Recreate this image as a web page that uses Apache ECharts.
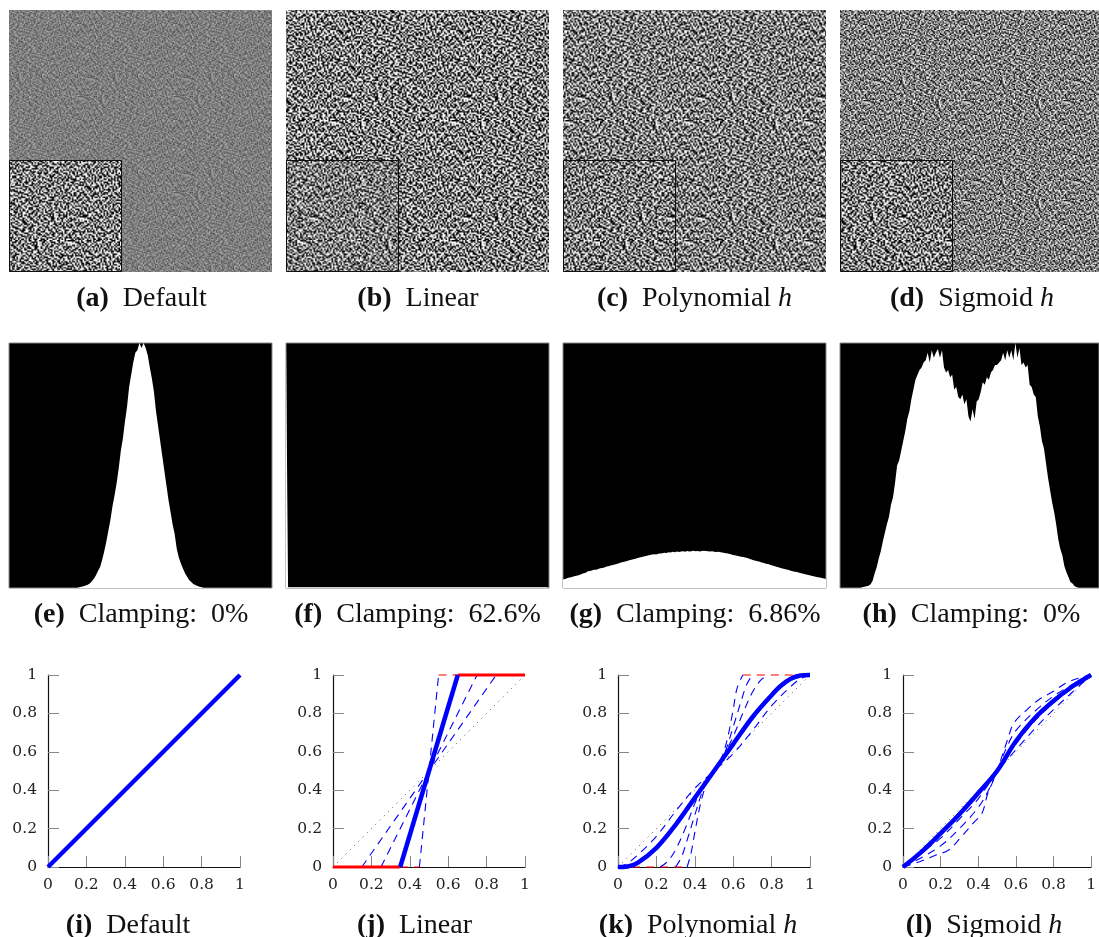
<!DOCTYPE html>
<html>
<head>
<meta charset="utf-8">
<script src="https://cdn.jsdelivr.net/npm/echarts@6/dist/echarts.min.js"></script>
<style>html,body{margin:0;padding:0;background:#fff}#c{width:1099px;height:937px}</style>
</head>
<body>
<div id="c"></div>
<script>
// ---------- captions ----------
const captionsTop = [['(a)','Default',''],['(b)','Linear',''],['(c)','Polynomial','h'],['(d)','Sigmoid','h']];
const captionsMid = [['(e)','Clamping:  0%',''],['(f)','Clamping:  62.6%',''],['(g)','Clamping:  6.86%',''],['(h)','Clamping:  0%','']];
const captionsBot = [['(i)','Default',''],['(j)','Linear',''],['(k)','Polynomial','h'],['(l)','Sigmoid','h']];
const tickStep = 0.2;

const histE = [0,0,0,0,0,0,0,0,0,0,0,0,0,0,0,0,0,0,0,0,0,0,0,0,0,0,0,0,0,0,0,0,0,0,
 .3,.5,.7,1,1.3,1.8,2.8,3.8,5.2,7,8.6,11.5,15,19,23.5,28,33.5,38,43,49,56,61,68,74,82,87,92,96,97,100,98,100,98,95,90,85.5,80,72,66,60,54,48,42,36,31,26,22,16,12.5,10,8,6,4.6,3.3,2.4,1.6,1.2,.8,.5,.3,
 0,0,0,0,0,0,0,0,0,0,0,0,0,0,0,0,0,0,0,0,0,0,0,0,0,0,0,0,0,0,0,0,0,0];
const histF = [100,.3,.3,.3,.3,.3,.3,.3,.3,.3,.3,.3,.3,.3,.3,.3,.3,.3,.3,.3,.3,.3,.3,.3,.3,.3,.3,.3,.3,.3,.3,.3,
 .3,.3,.3,.3,.3,.3,.3,.3,.3,.3,.3,.3,.3,.3,.3,.3,.3,.3,.3,.3,.3,.3,.3,.3,.3,.3,.3,.3,.3,.3,.3,.3,
 .3,.3,.3,.3,.3,.3,.3,.3,.3,.3,.3,.3,.3,.3,.3,.3,.3,.3,.3,.3,.3,.3,.3,.3,.3,.3,.3,.3,.3,.3,.3,.3,
 .3,.3,.3,.3,.3,.3,.3,.3,.3,.3,.3,.3,.3,.3,.3,.3,.3,.3,.3,.3,.3,.3,.3,.3,.3,.3,.3,.3,.3,.3,.3,.3];
const histG = [3.5,3.7,4,4.3,4.4,4.7,4.9,5.1,5.3,5.7,6,6.2,6.8,
 6.9,7.1,7.4,7.5,7.8,8.1,8.2,8.4,8.8,8.9,9.2,9.4,9.6,9.8,10.1,10.4,
 10.6,10.8,11,11.3,11.5,11.7,11.9,12.2,12.4,12.7,12.9,13.1,13.3,13.5,13.7,13.8,
 13.7,14,14.1,14.2,14.4,14.3,14.6,14.5,14.8,14.6,14.9,14.7,14.9,
 15,14.8,15.1,14.9,15,15.2,15,15.1,14.9,15.1,15.2,15.1,
 15,14.9,15,14.8,14.7,14.8,14.6,14.5,14.3,14.2,14,13.8,13.5,
 13.4,13.2,13,12.8,12.7,12.4,12.2,11.9,11.6,11.3,11.1,
 10.9,10.7,10.4,10.2,9.9,9.8,9.5,9.2,9,8.7,8.5,8.2,8,7.8,7.6,7.3,7,
 6.8,6.6,6.5,6.2,6,5.8,5.6,5.4,5.2,5,4.8,4.6,4.4,4.3,4.1,3.9,3.7];
const histH = [0,0,0,0,0,0,0,0,0,0,0,
 .3,.5,.7,.9,1.5,3,6,8.5,12,15,19,22.6,26,29,34,37,43,50,52,56,60,64,69,72,77,81,85,87,89,90,92,93,96,92,97,94,96,97.6,94,97,90,88,89,86,87,81,82,78,77,79,75,77,70,68,73,69,76,77,80,84,83,86,85,88,89,91,91,92,93,96,93,97,94,97,93,100,94,98,91,92,90,91,83,82,79,78,70,66,60,57,51,45,40,35,31,26,20,16,13.5,9,6.5,4.5,2.5,1.8,.8,.3,
 0,0,0,0,0,0,0,0,0,0,0];

const identity = [[0,0],[1,1]];
const iBold = [[0,0],[1,1]];

const jBold = [[0.35,0],[0.65,1]];
const jDash1 = [[0.15,0],[0.85,1]];
const jDash2 = [[0.25,0],[0.75,1]];
const jDash3 = [[0.45,0],[0.55,1]];
const jClampLow = [[0,0],[0.35,0]];
const jClampHigh = [[0.65,1],[1,1]];
const jThinLow = [[0.35,0],[0.45,0]];
const jThinHigh = [[0.55,1],[0.65,1]];

const kBold = [[0,0],[0.05,0.003],[0.1,0.02],[0.2,0.1],[0.3,0.22],[0.4,0.36],[0.5,0.5],[0.6,0.64],[0.7,0.78],[0.8,0.895],[0.85,0.945],[0.9,0.98],[0.95,0.997],[1,1]];
const kWide = [[0,0],[0.05,0.02],[0.1,0.06],[0.2,0.16],[0.3,0.29],[0.4,0.41],[0.5,0.5],[0.6,0.59],[0.7,0.71],[0.8,0.84],[0.9,0.94],[0.95,0.98],[1,1]];
const kDash1 = [[0.22,0],[0.26,0.03],[0.3,0.09],[0.35,0.2],[0.4,0.33],[0.45,0.44],[0.5,0.5],[0.55,0.58],[0.6,0.68],[0.65,0.8],[0.7,0.91],[0.74,0.97],[0.78,1]];
const kDash2 = [[0.3,0],[0.33,0.05],[0.36,0.14],[0.4,0.27],[0.45,0.42],[0.5,0.5],[0.55,0.58],[0.6,0.73],[0.64,0.86],[0.67,0.95],[0.7,1]];
const kDash3 = [[0.36,0],[0.38,0.07],[0.4,0.18],[0.43,0.33],[0.46,0.43],[0.5,0.5],[0.54,0.57],[0.57,0.67],[0.6,0.82],[0.62,0.93],[0.65,1]];
const kThinLow = [[0,0],[0.36,0]];
const kThinHigh = [[0.65,1],[1,1]];

const lBold = [[0,0],[0.1,0.08],[0.2,0.175],[0.3,0.275],[0.4,0.385],[0.5,0.5],[0.6,0.655],[0.7,0.775],[0.8,0.865],[0.9,0.94],[1,1]];
const lDash1 = [[0,0],[0.095,0.03],[0.17,0.06],[0.245,0.09],[0.31,0.157],[0.375,0.23],[0.42,0.28],[0.45,0.38],[0.48,0.45],[0.5,0.5],[0.555,0.66],[0.59,0.75],[0.66,0.82],[0.72,0.87],[0.8,0.915],[0.87,0.96],[0.955,0.99],[1,1]];
const lDash2 = [[0,0],[0.1,0.05],[0.2,0.11],[0.3,0.2],[0.4,0.31],[0.45,0.39],[0.5,0.5],[0.55,0.62],[0.6,0.71],[0.7,0.81],[0.8,0.89],[0.9,0.95],[1,1]];
const lDash3 = [[0,0],[0.1,0.075],[0.2,0.15],[0.3,0.25],[0.4,0.355],[0.5,0.5],[0.6,0.64],[0.7,0.76],[0.8,0.855],[0.9,0.93],[1,1]];
const lDash4 = [[0,0],[0.1,0.09],[0.2,0.185],[0.3,0.285],[0.4,0.39],[0.5,0.5],[0.6,0.61],[0.7,0.72],[0.8,0.82],[0.9,0.91],[1,1]];

// ---------- noise panels ----------
// The pixels of the noise images cannot be read one by one, so these panels are an
// approximation: a fixed hand-typed texture tile, with mean, contrast and grain per panel matched by eye.
const NOISE_TILE = [
"4720961583350278146692037518842960173554",
"1985324076612849503377160429958231640785",
"6043817295528061947343582706119375824604",
"3596142087734915620885274309661047259318",
"7218650349186437025914603982475510863927",
"5402973168249051786362895140736824195063",
"0867341526973284015659317842060596143782",
"9134286705451670938240651793328708524196",
"2675098413826359147086429537114260978345",
"4391752860067143829515780264893651207486",
"8520469317544986201733146875209432785610",
"1746083925390217654898023561474018396257",
"6259314780825743096126957041386529174038",
"3087652491167305842954318620979240561873",
"5914827036442819673070264985131786350429",
"7463190258906532481747125309684251876013",
"0328576149275061394828947613053619482756",
"9851403762618947250336082479516037295184",
"2170968345734286519061593820647158423690",
"4695231807059613742884371056928346017529",
"8036749152483027961565809147232570968341",
"1582460397216754803949126583704893152607",
"6917325084970348216578340261596412738059",
"3248017695125896437012679854303765081942",
"5703986124648210573986415037829156247380",
"7460152839391675082423958760146028593714",
"0895273461862349715050217396485731640928",
"9312648570147086329678543120969254173806",
"2654091738503927461881670945323860759142",
"4187365920276158943045236818790417326595",
"8729510346931402687556981423067592081437",
"1036784295648715032970345286914163709258",
"6598213047082369154722807659431520846731",
"3240956781517048396284916037528379162504",
"5871432609364925870113695842076248315907",
"7926048513280136749540472915863601957382",
"0463715982895274061367350198246785421069",
"9185360724456809231782614537908023674915",
"2739841650613597428006128463579142860375",
"4607129358738240916593547260183956207148"
];
const noiseMain  = [{mean:126,contrast:48,scale:1.2,shift:3},{mean:125,contrast:420,scale:1.5,shift:7},{mean:128,contrast:220,scale:1.5,shift:11},{mean:128,contrast:150,scale:1.25,shift:17}];
const noiseInset = [{mean:125,contrast:360,scale:1.5,shift:23},{mean:125,contrast:190,scale:1.5,shift:29},{mean:125,contrast:300,scale:1.5,shift:31},{mean:125,contrast:360,scale:1.5,shift:37}];

function noiseTexture(p){
  const n = NOISE_TILE.length, src = document.createElement('canvas');
  src.width = src.height = 2*n;
  const g = src.getContext('2d'), s=p.shift;
  for(let y=0;y<2*n;y++)for(let x=0;x<2*n;x++){
    const a=x%n,b=y%n,q=(x>=n?1:0)+(y>=n?2:0);
    const ch=q===0?NOISE_TILE[b][(a+s)%n]
      :q===1?NOISE_TILE[(a+s+13)%n][(b+7)%n]
      :q===2?NOISE_TILE[(b+19)%n][(a+s+29)%n]
      :NOISE_TILE[(a+s+5)%n][(b+23)%n];
    const v=Math.max(0,Math.min(255,Math.round(p.mean+p.contrast*(Number(ch||5)-4.5)/4.5)));
    g.fillStyle=`rgb(${v},${v},${v})`;
    g.fillRect(x,y,1,1);
  }
  const out=document.createElement('canvas');
  out.width=out.height=Math.round(2*n*p.scale);
  const o=out.getContext('2d');
  o.imageSmoothingEnabled=true;
  o.drawImage(src,0,0,out.width,out.height);
  return {image:out,repeat:'repeat'};
}

// ---------- layout ----------
const imgLeft = [9,286,563,840], imgWidth = [263,263,263,259];
const plotLeft = [48,333,618,903];
const capTop = [141.5,418,694.5,972], capMid = [141,417.5,695,971.5], capBot = [128,414.5,698,984];

const grid=[],xAxis=[],yAxis=[],series=[],title=[];
const SERIF='"Liberation Serif",serif', TICK='"DejaVu Serif",serif';
function hiddenCat(i,cats,gap){xAxis.push({gridIndex:i,type:'category',data:cats,show:false,boundaryGap:gap});}
function hiddenVal(i,max){yAxis.push({gridIndex:i,type:'value',min:0,max:max,show:false,splitLine:{show:false}});}

function addNoise(left,top,w,h,p,z,border){
  const i=grid.length;
  grid.push({left,top,width:w,height:h,z:z});
  hiddenCat(i,['n'],true);hiddenVal(i,1);
  series.push({type:'bar',xAxisIndex:i,yAxisIndex:i,data:[1],barWidth:'100%',silent:true,z:z,
    itemStyle:{color:noiseTexture(p),borderColor:border?'#111':'transparent',borderWidth:border?1:0}});
}
imgLeft.forEach((l,k)=>{
  addNoise(l,10,imgWidth[k],262,noiseMain[k],2,false);
  addNoise(l,160,113,112,noiseInset[k],6,true);
});

[histE,histF,histG,histH].forEach((vals,k)=>{
  const i=grid.length;
  grid.push({left:imgLeft[k],top:343,width:imgWidth[k],height:245,show:true,backgroundColor:'#000',borderColor:'#888',borderWidth:1});
  hiddenCat(i,vals.map((_,b)=>b),false);hiddenVal(i,100);
  series.push({type:'line',xAxisIndex:i,yAxisIndex:i,data:vals,showSymbol:false,silent:true,
    lineStyle:{width:0,color:'#fff'},areaStyle:{color:'#fff',opacity:1}});
});

const BLUE='#0000ff',RED='#ff0000';
const dotted=d=>({d,color:'#555',width:1,dash:[1,5]});
const dash=d=>({d,color:BLUE,width:1.1,dash:[8,6]});
const dashSmooth=d=>({d,color:BLUE,width:1.1,dash:[8,6],smooth:true});
const bold=d=>({d,color:BLUE,width:4.5});
const clamp=d=>({d,color:RED,width:3});
const thinRed=d=>({d,color:RED,width:1.1,dash:[8,6]});
const plots=[
  [bold(iBold)],
  [dotted(identity),dash(jDash1),dash(jDash2),dash(jDash3),thinRed(jThinLow),thinRed(jThinHigh),clamp(jClampLow),clamp(jClampHigh),bold(jBold)],
  [dotted(identity),thinRed(kThinLow),thinRed(kThinHigh),dashSmooth(kWide),dashSmooth(kDash1),dashSmooth(kDash2),dashSmooth(kDash3),{d:kBold,color:BLUE,width:4.5,smooth:true}],
  [dotted(identity),dashSmooth(lDash1),dashSmooth(lDash2),dashSmooth(lDash3),dashSmooth(lDash4),{d:lBold,color:BLUE,width:4.5,smooth:true}]
];
plots.forEach((lines,k)=>{
  const i=grid.length;
  grid.push({left:plotLeft[k],top:675,width:192,height:192});
  const ax={gridIndex:i,type:'value',min:0,max:1,interval:tickStep,splitLine:{show:false},
    axisLine:{show:true,onZero:false,lineStyle:{color:'#111',width:1.2}},
    axisTick:{show:true,inside:true,length:11,lineStyle:{color:'#888',width:1}},
    axisLabel:{fontFamily:TICK,fontSize:15.5,color:'#222',showMinLabel:true,showMaxLabel:true}};
  xAxis.push({...ax,axisLabel:{...ax.axisLabel,margin:10}});
  yAxis.push({...ax,axisLabel:{...ax.axisLabel,margin:11,padding:[4,0,0,0]}});
  lines.forEach(s=>series.push({type:'line',xAxisIndex:i,yAxisIndex:i,data:s.d,showSymbol:false,silent:true,clip:false,
    smooth:s.smooth?0.35:false,z:5,lineStyle:{color:s.color,width:s.width,type:s.dash||'solid',cap:'butt'}}));
});

function addCaptions(list,centers,top){
  list.forEach((c,k)=>{
    const t=`{b|${c[0]}}  {r|${c[1]}}`+(c[2]?` {i|${c[2]}}`:'');
    title.push({text:t,left:centers[k],top:top,padding:0,textAlign:'center',textStyle:{fontFamily:SERIF,fontSize:28,fontWeight:'normal',color:'#111',
      rich:{b:{fontFamily:SERIF,fontSize:28,fontWeight:'bold',color:'#111'},r:{fontFamily:SERIF,fontSize:28,fontWeight:'normal',color:'#111'},i:{fontFamily:SERIF,fontSize:28,fontWeight:'normal',fontStyle:'italic',color:'#111'}}}});
  });
}
addCaptions(captionsTop,capTop,285);
addCaptions(captionsMid,capMid,601);
addCaptions(captionsBot,capBot,912);

echarts.init(document.getElementById('c'),null,{renderer:'canvas'}).setOption({
  animation:false,backgroundColor:'#fff',title,grid,xAxis,yAxis,series
});
</script>
</body>
</html>
